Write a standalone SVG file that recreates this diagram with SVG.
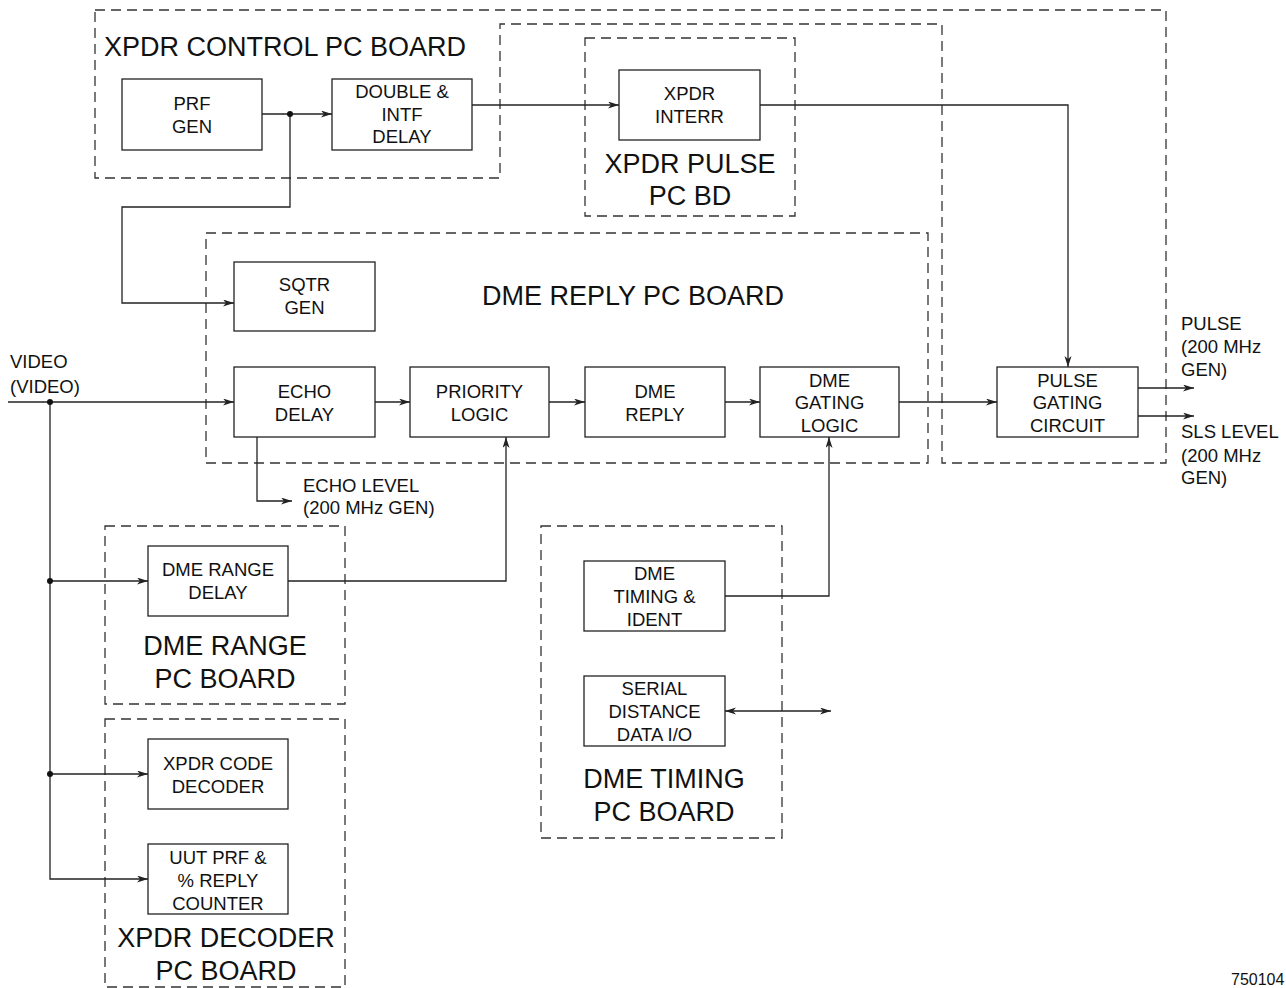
<svg xmlns="http://www.w3.org/2000/svg" width="1286" height="988" viewBox="0 0 1286 988">
<style>
.board{fill:none;stroke:#333;stroke-width:1.3;stroke-dasharray:10,6}
.box{fill:#fff;stroke:#222;stroke-width:1.3}
.ln{fill:none;stroke:#222;stroke-width:1.3}
.arr{marker-end:url(#ah)}
text{font-family:"Liberation Sans",Arial,sans-serif;fill:#111}
.t{font-size:18.5px;text-anchor:middle}
.s{font-size:18.5px}
.big{font-size:27px}
.bigc{font-size:27px;text-anchor:middle}
</style>
<defs>
<marker id="ah" markerUnits="userSpaceOnUse" markerWidth="12" markerHeight="8" refX="11" refY="3.5" orient="auto-start-reverse">
<path d="M0,0 L11,3.5 L0,7 L3,3.5 Z" fill="#222"/>
</marker>
</defs>
<rect width="1286" height="988" fill="#fff"/>

<g id="boards">
<path id="xpdr-control-board" class="board" d="M95,10 H1166 V463 H942 V24 H500 V178 H95 Z"/>
<rect id="xpdr-pulse-board" class="board" x="585" y="38" width="210" height="178"/>
<rect id="dme-reply-board" class="board" x="206" y="233" width="722" height="230"/>
<rect id="dme-range-board" class="board" x="105" y="526" width="240" height="178"/>
<rect id="xpdr-decoder-board" class="board" x="105" y="719" width="240" height="268"/>
<rect id="dme-timing-board" class="board" x="541" y="526" width="241" height="312"/>
<text class="big" x="104" y="56">XPDR CONTROL PC BOARD</text>
<text class="bigc" x="690" y="173">XPDR PULSE</text>
<text class="bigc" x="690" y="205">PC BD</text>
<text class="bigc" x="633" y="305">DME REPLY PC BOARD</text>
<text class="bigc" x="225" y="655">DME RANGE</text>
<text class="bigc" x="225" y="688">PC BOARD</text>
<text class="bigc" x="226" y="947">XPDR DECODER</text>
<text class="bigc" x="226" y="980">PC BOARD</text>
<text class="bigc" x="664" y="788">DME TIMING</text>
<text class="bigc" x="664" y="821">PC BOARD</text>
</g>

<g id="connectors">
<line class="ln arr" x1="262" y1="114" x2="332" y2="114"/>
<polyline class="ln arr" points="290,114 290,207 122,207 122,303 234,303"/>
<line class="ln arr" x1="472" y1="105" x2="619" y2="105"/>
<polyline class="ln arr" points="760,105 1068,105 1068,367"/>
<line class="ln arr" x1="8" y1="402" x2="234" y2="402"/>
<polyline class="ln arr" points="50,402 50,879 148,879"/>
<line class="ln arr" x1="50" y1="581" x2="148" y2="581"/>
<line class="ln arr" x1="50" y1="774" x2="148" y2="774"/>
<line class="ln arr" x1="375" y1="402" x2="410" y2="402"/>
<line class="ln arr" x1="549" y1="402" x2="585" y2="402"/>
<line class="ln arr" x1="725" y1="402" x2="760" y2="402"/>
<line class="ln arr" x1="899" y1="402" x2="997" y2="402"/>
<polyline class="ln arr" points="257,437 257,501 292,501"/>
<polyline class="ln arr" points="288,581 506,581 506,437"/>
<polyline class="ln arr" points="725,596 829,596 829,437"/>
<line class="ln arr" x1="725" y1="711" x2="831" y2="711" marker-start="url(#ah)"/>
<line class="ln arr" x1="1138" y1="388" x2="1194" y2="388"/>
<line class="ln arr" x1="1138" y1="416" x2="1194" y2="416"/>
<circle cx="290" cy="114" r="3" fill="#111"/>
<circle cx="50" cy="402" r="3" fill="#111"/>
<circle cx="50" cy="581" r="3" fill="#111"/>
<circle cx="50" cy="774" r="3" fill="#111"/>
</g>

<g id="prf-gen"><rect class="box" x="122" y="79" width="140" height="71"/>
<text class="t" x="192" y="110">PRF</text><text class="t" x="192" y="133">GEN</text></g>
<g id="double-intf-delay"><rect class="box" x="332" y="79" width="140" height="71"/>
<text class="t" x="402" y="98">DOUBLE &amp;</text><text class="t" x="402" y="121">INTF</text><text class="t" x="402" y="143">DELAY</text></g>
<g id="xpdr-interr"><rect class="box" x="619" y="70" width="141" height="70"/>
<text class="t" x="689.5" y="100">XPDR</text><text class="t" x="689.5" y="123">INTERR</text></g>
<g id="sqtr-gen"><rect class="box" x="234" y="262" width="141" height="69"/>
<text class="t" x="304.5" y="291">SQTR</text><text class="t" x="304.5" y="314">GEN</text></g>
<g id="echo-delay"><rect class="box" x="234" y="367" width="141" height="70"/>
<text class="t" x="304.5" y="398">ECHO</text><text class="t" x="304.5" y="421">DELAY</text></g>
<g id="priority-logic"><rect class="box" x="410" y="367" width="139" height="70"/>
<text class="t" x="479.5" y="398">PRIORITY</text><text class="t" x="479.5" y="421">LOGIC</text></g>
<g id="dme-reply"><rect class="box" x="585" y="367" width="140" height="70"/>
<text class="t" x="655" y="398">DME</text><text class="t" x="655" y="421">REPLY</text></g>
<g id="dme-gating-logic"><rect class="box" x="760" y="367" width="139" height="70"/>
<text class="t" x="829.5" y="387">DME</text><text class="t" x="829.5" y="409">GATING</text><text class="t" x="829.5" y="432">LOGIC</text></g>
<g id="pulse-gating-circuit"><rect class="box" x="997" y="367" width="141" height="70"/>
<text class="t" x="1067.5" y="387">PULSE</text><text class="t" x="1067.5" y="409">GATING</text><text class="t" x="1067.5" y="432">CIRCUIT</text></g>
<g id="dme-range-delay"><rect class="box" x="148" y="546" width="140" height="70"/>
<text class="t" x="218" y="576">DME RANGE</text><text class="t" x="218" y="599">DELAY</text></g>
<g id="xpdr-code-decoder"><rect class="box" x="148" y="739" width="140" height="70"/>
<text class="t" x="218" y="770">XPDR CODE</text><text class="t" x="218" y="793">DECODER</text></g>
<g id="uut-prf-counter"><rect class="box" x="148" y="844" width="140" height="70"/>
<text class="t" x="218" y="864">UUT PRF &amp;</text><text class="t" x="218" y="887">% REPLY</text><text class="t" x="218" y="910">COUNTER</text></g>
<g id="dme-timing-ident"><rect class="box" x="584" y="561" width="141" height="70"/>
<text class="t" x="654.5" y="580">DME</text><text class="t" x="654.5" y="603">TIMING &amp;</text><text class="t" x="654.5" y="626">IDENT</text></g>
<g id="serial-distance-data"><rect class="box" x="584" y="676" width="141" height="70"/>
<text class="t" x="654.5" y="695">SERIAL</text><text class="t" x="654.5" y="718">DISTANCE</text><text class="t" x="654.5" y="741">DATA I/O</text></g>

<g id="labels">
<text class="s" x="10" y="368">VIDEO</text>
<text class="s" x="10" y="393">(VIDEO)</text>
<text class="s" x="303" y="492">ECHO LEVEL</text>
<text class="s" x="303" y="514">(200 MHz GEN)</text>
<text class="s" x="1181" y="330">PULSE</text>
<text class="s" x="1181" y="353">(200 MHz</text>
<text class="s" x="1181" y="376">GEN)</text>
<text class="s" x="1181" y="438">SLS LEVEL</text>
<text class="s" x="1181" y="462">(200 MHz</text>
<text class="s" x="1181" y="484">GEN)</text>
<text style="font-size:16px" x="1231" y="985">750104</text>
</g>
</svg>
